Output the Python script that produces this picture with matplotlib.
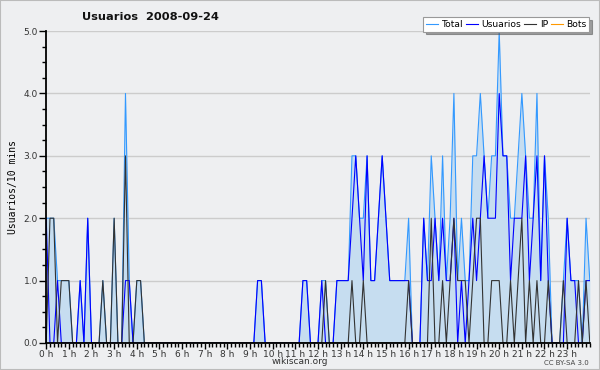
import matplotlib
matplotlib.use('Agg')
import numpy as np
import matplotlib.pyplot as plt
from matplotlib.ticker import MultipleLocator, FixedLocator
from matplotlib.patches import Rectangle

# Datos cada 10 minutos (145 puntos, 0 h .. 24 h)
usuarios = [
    2, 0, 0, 1, 0, 0, 0, 0, 0, 1, 0, 2, 0, 0, 0, 0, 0, 0, 0, 0,
    0, 1, 1, 0, 0, 0, 0, 0, 0, 0, 0, 0, 0, 0, 0, 0, 0, 0, 0, 0,
    0, 0, 0, 0, 0, 0, 0, 0, 0, 0, 0, 0, 0, 0, 0, 0, 1, 1, 0, 0,
    0, 0, 0, 0, 0, 0, 0, 0, 1, 1, 0, 0, 0, 1, 0, 0, 0, 1, 1, 1,
    1, 2, 3, 2, 1, 3, 1, 1, 2, 3, 2, 1, 1, 1, 1, 1, 1, 0, 0, 0,
    2, 1, 1, 2, 1, 2, 1, 1, 2, 0, 1, 0, 1, 2, 1, 2, 3, 2, 2, 2,
    4, 3, 3, 1, 2, 2, 2, 3, 1, 2, 3, 1, 3, 1, 0, 0, 0, 0, 2, 1,
    1, 0, 0, 1, 1,
]
ip = [
    0, 2, 2, 0, 1, 1, 1, 0, 0, 0, 0, 0, 0, 0, 0, 1, 0, 0, 2, 0,
    0, 3, 0, 0, 1, 1, 0, 0, 0, 0, 0, 0, 0, 0, 0, 0, 0, 0, 0, 0,
    0, 0, 0, 0, 0, 0, 0, 0, 0, 0, 0, 0, 0, 0, 0, 0, 0, 0, 0, 0,
    0, 0, 0, 0, 0, 0, 0, 0, 0, 0, 0, 0, 0, 0, 1, 0, 0, 0, 0, 0,
    0, 1, 0, 0, 1, 0, 0, 0, 0, 0, 0, 0, 0, 0, 0, 0, 1, 0, 0, 0,
    0, 0, 2, 0, 0, 1, 0, 1, 2, 1, 1, 1, 0, 1, 2, 2, 0, 0, 1, 1,
    1, 0, 0, 1, 0, 1, 2, 0, 1, 0, 1, 0, 0, 1, 0, 0, 0, 1, 0, 0,
    0, 1, 0, 1, 0,
]
bots = [0] * 145
total = [u + i + b for u, i, b in zip(usuarios, ip, bots)]

horas = np.arange(len(total)) / 6.0

fig = plt.figure(figsize=(6, 3.7), dpi=100, facecolor='#eeeff1')
ax = fig.add_axes([0.077, 0.073, 0.906, 0.843])
ax.set_facecolor('#eeeff1')

ax.fill_between(horas, total, color='#c6ddf0', linewidth=0)
ax.plot(horas, total, color='#3399ff', lw=0.8, label='Total')
ax.plot(horas, usuarios, color='#0000ff', lw=0.8, label='Usuarios')
ax.plot(horas, ip, color='#333333', lw=0.8, label='IP')
ax.plot(horas, bots, color='#ff9900', lw=0.8, label='Bots')

ax.set_xlim(0, 24)
ax.set_ylim(0, 5)
ax.yaxis.set_major_locator(MultipleLocator(1))
ax.yaxis.set_minor_locator(MultipleLocator(0.25))
ax.yaxis.set_major_formatter(lambda v, p: f'{v:.1f}')
ax.xaxis.set_major_locator(FixedLocator(range(24)))
ax.xaxis.set_minor_locator(MultipleLocator(1 / 6))
ax.set_xticklabels([f'{h} h' for h in range(24)])
ax.tick_params(axis='both', labelsize=6.5, colors='#333333', pad=1)
ax.tick_params(axis='x', which='major', length=4, width=1, color='black')
ax.tick_params(axis='x', which='minor', length=3, width=1, color='black')
ax.tick_params(axis='y', which='major', length=5, width=1, color='black')
ax.tick_params(axis='y', which='minor', length=3, width=1, color='black')
ax.grid(axis='y', color='#cccccc', lw=1)
ax.set_axisbelow(True)
for s in ['top', 'right']:
    ax.spines[s].set_visible(False)
ax.spines['left'].set_linewidth(1.3)
ax.spines['bottom'].set_linewidth(1.3)

ax.set_ylabel('Usuarios/10 mins', family='DejaVu Sans Mono', fontsize=7,
              labelpad=4)

fig.text(0.25, 0.953, 'Usuarios  2008-09-24', fontsize=8.2,
         fontweight='bold', ha='center', va='center', color='#111111')
fig.text(0.5, 0.022, 'wikiscan.org', fontsize=6.5, ha='center',
         va='center', color='#333333')
fig.text(0.982, 0.018, 'CC BY-SA 3.0', fontsize=5, ha='right',
         va='center', color='#444444')

leg = ax.legend(loc='upper right', bbox_to_anchor=(0.982, 0.954),
                bbox_transform=fig.transFigure, ncol=4, fontsize=6.6,
                frameon=True, fancybox=False, shadow=True,
                handlelength=1.3, handletextpad=0.4, columnspacing=0.3,
                borderpad=0.3, borderaxespad=0)
leg.get_frame().set_edgecolor('#999999')
leg.get_frame().set_linewidth(0.8)

fig.patches.append(Rectangle((0, 0), 1, 1, transform=fig.transFigure,
                             fill=False, edgecolor='#bbbbbb', lw=1.5))

plt.savefig('out.png', dpi=100, facecolor=fig.get_facecolor())
plt.close()
